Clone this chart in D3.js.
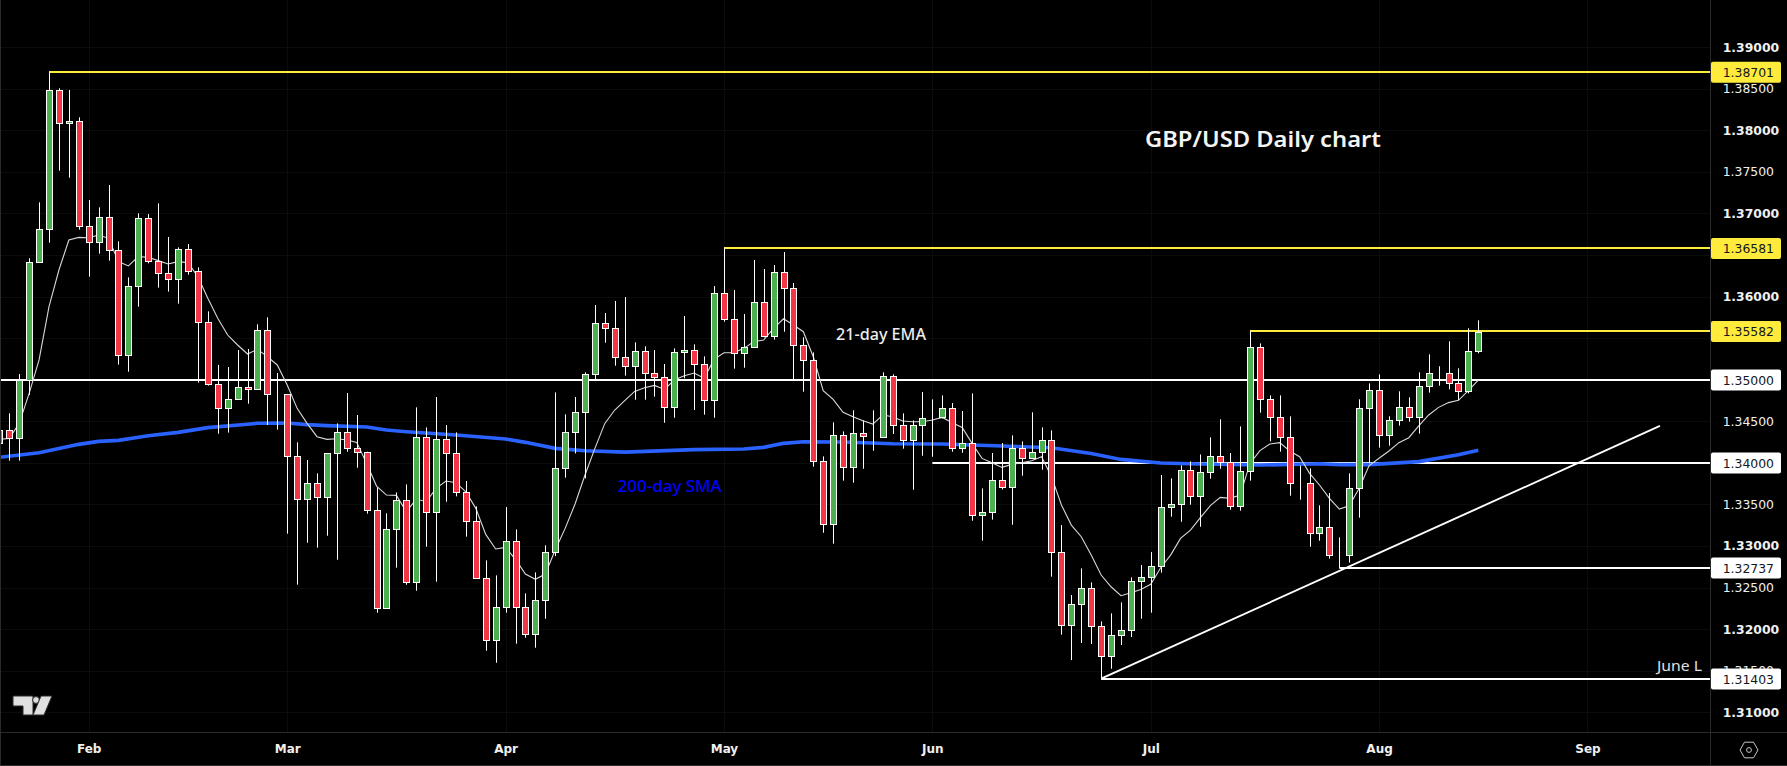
<!DOCTYPE html>
<html>
<head>
  <title>GBP/USD Daily chart</title>
  <script src="https://d3js.org/d3.v7.min.js"></script>
  <style>
    html, body {
      margin: 0;
      padding: 0;
      background-color: black;
      overflow: hidden;
    }
    svg { display: block; }
    text { font-family: 'DejaVu Sans'; }
    .axis path, .axis line { display: none; }
    .axis text { fill: #f0f0f0; font-size: 12.4px; font-family: 'DejaVu Sans'; }
    .note { font-family: 'Noto Sans'; }
  </style>
</head>
<body>
  <svg></svg>
  <script>
    // daily candles, one entry per bar
    const opens = [
      1.34242,1.34391,1.34294,1.34992,1.36412,1.36809,1.38481,1.38084,1.38108,1.36845,
      1.36652,1.36953,1.36556,1.35293,1.36123,1.36941,1.36424,1.36279,1.36207,1.36568,
      1.36303,1.35690,1.34944,1.34655,1.34764,1.34908,1.34884,1.35594,1.34824,1.34824,
      1.34078,1.33561,1.33753,1.33585,1.34113,1.34366,1.34174,1.34125,1.33428,1.32249,
      1.33199,1.33548,1.32562,1.34306,1.33404,1.34282,1.34113,1.33644,1.33295,1.32610,
      1.31864,1.32261,1.33055,1.32261,1.31936,1.32345,1.32922,1.33933,1.34366,1.34607,
      1.35064,1.35677,1.35617,1.35268,1.35160,1.35340,1.35076,1.35028,1.34667,1.35328,
      1.35352,1.35184,1.34751,1.36038,1.35725,1.35316,1.35389,1.35930,1.35521,1.36291,
      1.36098,1.35413,1.35232,1.34017,1.33259,1.34330,1.33945,1.34354,1.34318,1.34306,
      1.35040,1.34450,1.34270,1.34450,1.34546,1.34546,1.34655,1.34174,1.34234,1.33368,
      1.33404,1.33789,1.33704,1.34174,1.34053,1.34126,1.34270,1.32922,1.32044,1.32297,
      1.32489,1.32032,1.31671,1.31924,1.31984,1.32574,1.32622,1.32754,1.33464,1.33500,
      1.33909,1.33596,1.33885,1.34077,1.34005,1.33476,1.33897,1.35389,1.34763,1.34547,
      1.34306,1.33753,1.33753,1.33152,1.33224,1.32887,1.32887,1.33693,1.34655,1.34872,
      1.34331,1.34511,1.34667,1.34547,1.34920,1.35076,1.35076,1.34956,1.34860,1.35341
    ];
    const highs = [
      1.34475,1.34595,1.35068,1.36460,1.37133,1.38701,1.38505,1.38485,1.38156,1.37161,
      1.37073,1.37342,1.36664,1.36231,1.37001,1.36993,1.37121,1.36716,1.36592,1.36632,
      1.36351,1.35822,1.35177,1.35152,1.35357,1.35369,1.35666,1.35750,1.35080,1.34824,
      1.34246,1.34034,1.33873,1.34114,1.34474,1.34839,1.34575,1.34133,1.33704,1.33392,
      1.33644,1.33740,1.34667,1.34426,1.34791,1.34454,1.34366,1.33781,1.33476,1.32826,
      1.32646,1.33468,1.33199,1.32429,1.32682,1.33007,1.34847,1.34583,1.34791,1.35088,
      1.35898,1.35802,1.35946,1.35994,1.35449,1.35401,1.35356,1.35188,1.35377,1.35766,
      1.35425,1.35280,1.36126,1.36581,1.36078,1.35790,1.36439,1.36331,1.36379,1.36535,
      1.36163,1.35509,1.35328,1.34077,1.34486,1.34378,1.34631,1.34510,1.34631,1.35088,
      1.35064,1.34595,1.34510,1.34851,1.34763,1.34811,1.34719,1.34623,1.34835,1.33692,
      1.34118,1.34238,1.34330,1.34258,1.34607,1.34426,1.34390,1.33251,1.32409,1.32730,
      1.32562,1.32092,1.32189,1.32321,1.32622,1.32770,1.32926,1.33853,1.33813,1.33969,
      1.34017,1.34101,1.34306,1.34523,1.34118,1.34438,1.35582,1.35437,1.34811,1.34811,
      1.34559,1.33965,1.33933,1.33488,1.33637,1.33103,1.33873,1.34764,1.34956,1.35064,
      1.34559,1.34860,1.34788,1.35088,1.35305,1.35161,1.35461,1.35137,1.35618,1.35714
    ];
    const lows = [
      1.34174,1.34026,1.34026,1.34816,1.36412,1.36648,1.37514,1.37430,1.36805,1.36239,
      1.36516,1.36432,1.35181,1.35096,1.35878,1.36400,1.36107,1.36059,1.35914,1.36263,
      1.34964,1.34928,1.34350,1.34363,1.34764,1.34711,1.34884,1.34455,1.34399,1.33147,
      1.32534,1.33039,1.32979,1.33123,1.32834,1.34133,1.33941,1.33388,1.32197,1.32249,
      1.32738,1.32533,1.32461,1.32991,1.32570,1.33532,1.33596,1.33111,1.32610,1.31739,
      1.31595,1.32197,1.31824,1.31896,1.31776,1.32124,1.32878,1.33821,1.34113,1.33813,
      1.34988,1.35445,1.35168,1.35048,1.34759,1.34759,1.34795,1.34482,1.34542,1.35016,
      1.34635,1.34579,1.34542,1.35697,1.35132,1.35144,1.35389,1.35509,1.35481,1.35577,
      1.35008,1.34855,1.33953,1.33159,1.33027,1.33785,1.33761,1.33929,1.34145,1.34306,
      1.34346,1.34170,1.33676,1.34085,1.34073,1.34534,1.34133,1.34121,1.33303,1.33063,
      1.33316,1.33680,1.33255,1.33845,1.34053,1.33917,1.32630,1.31932,1.31627,1.31832,
      1.31820,1.31403,1.31523,1.31808,1.31904,1.32124,1.32197,1.32678,1.33352,1.33291,
      1.33496,1.33231,1.33809,1.33929,1.33436,1.33424,1.33785,1.34603,1.34258,1.34134,
      1.33604,1.33556,1.32991,1.33063,1.32847,1.32737,1.32799,1.33340,1.33994,1.34182,
      1.34206,1.34447,1.34495,1.34351,1.34844,1.34928,1.34884,1.34752,1.34836,1.35317
    ];
    const closes = [
      1.34395,1.34294,1.34992,1.36412,1.36809,1.38481,1.38084,1.38108,1.36845,1.36652,
      1.36953,1.36556,1.35293,1.36123,1.36941,1.36424,1.36279,1.36207,1.36568,1.36303,
      1.35690,1.34944,1.34655,1.34764,1.34908,1.34884,1.35594,1.34824,1.34824,1.34078,
      1.33561,1.33753,1.33585,1.34114,1.34366,1.34174,1.34125,1.33428,1.32249,1.33199,
      1.33548,1.32562,1.34306,1.33404,1.34282,1.34113,1.33644,1.33295,1.32610,1.31864,
      1.32261,1.33055,1.32261,1.31936,1.32345,1.32922,1.33933,1.34366,1.34607,1.35064,
      1.35677,1.35617,1.35268,1.35160,1.35340,1.35076,1.35028,1.34667,1.35328,1.35352,
      1.35184,1.34751,1.36038,1.35725,1.35316,1.35389,1.35930,1.35521,1.36291,1.36098,
      1.35413,1.35232,1.34017,1.33259,1.34330,1.33945,1.34354,1.34318,1.34318,1.35040,
      1.34450,1.34270,1.34450,1.34534,1.34546,1.34655,1.34174,1.34234,1.33368,1.33404,
      1.33789,1.33704,1.34174,1.34053,1.34126,1.34270,1.32922,1.32044,1.32297,1.32489,
      1.32032,1.31671,1.31924,1.31984,1.32574,1.32622,1.32754,1.33464,1.33500,1.33909,
      1.33596,1.33885,1.34077,1.34005,1.33476,1.33897,1.35389,1.34763,1.34547,1.34306,
      1.33753,1.33753,1.33152,1.33224,1.32887,1.32887,1.33693,1.34655,1.34872,1.34331,
      1.34511,1.34667,1.34547,1.34920,1.35076,1.35076,1.34956,1.34860,1.35341,1.35570
    ];
    // 21-day EMA (thin white line), one value per bar
    const ema21 = [
      1.34282,1.34294,1.34475,1.34836,1.35237,1.35878,1.36319,1.36680,1.36712,1.36708,
      1.36740,1.36700,1.36420,1.36368,1.36480,1.36472,1.36432,1.36392,1.36420,1.36408,
      1.36239,1.35979,1.35738,1.35537,1.35417,1.35309,1.35365,1.35277,1.35177,1.34936,
      1.34655,1.34475,1.34314,1.34282,1.34290,1.34274,1.34246,1.33993,1.33720,1.33612,
      1.33608,1.33412,1.33564,1.33532,1.33692,1.33781,1.33761,1.33652,1.33452,1.33139,
      1.32963,1.32983,1.32838,1.32662,1.32598,1.32662,1.32950,1.33211,1.33504,1.33853,
      1.34174,1.34474,1.34635,1.34747,1.34859,1.34903,1.34931,1.34883,1.34996,1.35048,
      1.35080,1.35016,1.35244,1.35324,1.35324,1.35377,1.35457,1.35477,1.35617,1.35733,
      1.35657,1.35577,1.35276,1.34867,1.34763,1.34607,1.34554,1.34506,1.34466,1.34575,
      1.34554,1.34502,1.34494,1.34494,1.34514,1.34546,1.34482,1.34426,1.34234,1.34053,
      1.34001,1.33945,1.33981,1.34001,1.34025,1.34073,1.33833,1.33492,1.33251,1.33111,
      1.32890,1.32650,1.32509,1.32401,1.32437,1.32477,1.32538,1.32738,1.32890,1.33091,
      1.33191,1.33340,1.33484,1.33584,1.33572,1.33612,1.33993,1.34146,1.34226,1.34242,
      1.34142,1.34073,1.33873,1.33733,1.33573,1.33444,1.33484,1.33693,1.33966,1.34054,
      1.34142,1.34242,1.34302,1.34443,1.34575,1.34667,1.34724,1.34752,1.34868,1.34996
    ];
    // 200-day SMA (thick blue line), read at these bars only
    const smaBars = [0,4,8,10,12,15,18,21,26,29,31,33,37,39,41,46,51,53,56,59,63,70,75,77,79,81,85,90,95,98,106,110,113,117,121,127,133,135,138,143,147,149];
    const sma200 = [
      1.34066,1.34122,1.34222,1.34258,1.34270,1.34326,1.34366,1.34423,1.34475,1.34479,
      1.34459,1.34447,1.34430,1.34394,1.34374,1.34334,1.34286,1.34246,1.34174,1.34145,
      1.34129,1.34158,1.34166,1.34186,1.34234,1.34254,1.34250,1.34230,1.34226,1.34214,
      1.34182,1.34113,1.34041,1.33997,1.33985,1.33973,1.33989,1.33978,1.33978,1.34014,
      1.34098,1.34150
    ];

    const gridPrices = [1.39,1.385,1.38,1.375,1.37,1.365,1.36,1.355,1.35,1.345,1.34,1.335,1.33,1.325,1.32,1.315,1.31];
    // the scale labels that are not covered by a price tag
    const priceTicks = [1.39,1.385,1.38,1.375,1.37,1.36,1.345,1.335,1.33,1.325,1.32,1.315,1.31];
    const monthLabels = ["Feb","Mar","Apr","May","Jun","Jul","Aug","Sep"];
    const monthBars = [9,29,51,73,94,116,139,160];

    // horizontal levels: price, first bar (null = from the left edge), colour
    const levelPrices = [1.38701,1.36581,1.35582,1.35,1.34,1.32737,1.31403];
    const levelStarts = [5,73,126,null,94,135,111];
    const levelColors = ["#ffeb3b","#ffeb3b","#ffeb3b","#fff","#fff","#fff","#fff"];
    // trend line from the June low
    const trendBars = [111,167.3];
    const trendPrices = [1.31403,1.34443];

    var width = 1787, height = 766;
    var paneRight = 1710, paneBottom = 732;

    var svg = d3.select("svg").attr("width", width).attr("height", height);

    var barCount = opens.length;
    var bars = d3.range(barCount);
    var x = d3.scaleLinear().domain([1, 149]).range([9.3, 1478.3]);
    var y = d3.scaleLinear().domain([1.38701, 1.31403]).range([72, 678.7]);

    // very faint grid
    var grid = svg.append("g").attr("stroke", "#0c0c0c").attr("stroke-width", 1);
    grid.selectAll(".gh").data(gridPrices).join("line")
      .attr("x1", 0).attr("x2", paneRight)
      .attr("y1", d => Math.round(y(d)) + 0.5).attr("y2", d => Math.round(y(d)) + 0.5);
    grid.selectAll(".gv").data(monthBars).join("line")
      .attr("y1", 0).attr("y2", paneBottom)
      .attr("x1", d => Math.round(x(d)) + 0.5).attr("x2", d => Math.round(x(d)) + 0.5);

    // clip the pane so nothing runs onto the price scale
    svg.append("clipPath").attr("id", "pane").append("rect")
      .attr("x", 0).attr("y", 0).attr("width", paneRight).attr("height", paneBottom);
    var pane = svg.append("g").attr("clip-path", "url(#pane)");

    // levels, snapped to whole pixels so they stay solid
    pane.selectAll(".level").data(levelPrices).join("line")
      .attr("x1", (d, i) => levelStarts[i] === null ? 0 : x(levelStarts[i]))
      .attr("x2", paneRight)
      .attr("y1", d => Math.round(y(d))).attr("y2", d => Math.round(y(d)))
      .attr("stroke", (d, i) => levelColors[i])
      .attr("stroke-width", 2);

    pane.append("line")
      .attr("x1", x(trendBars[0])).attr("y1", y(trendPrices[0]))
      .attr("x2", x(trendBars[1])).attr("y2", y(trendPrices[1]))
      .attr("stroke", "#fff").attr("stroke-width", 1.9);

    // moving averages
    var smaLine = d3.line().x(d => x(d)).y((d, i) => y(sma200[i]));
    pane.append("path").attr("d", smaLine(smaBars))
      .attr("fill", "none").attr("stroke", "#2962ff").attr("stroke-width", 3.6);

    var emaLine = d3.line().x(d => x(d)).y(d => y(ema21[d]));
    pane.append("path").attr("d", emaLine(bars))
      .attr("fill", "none").attr("stroke", "#d8d8d8").attr("stroke-width", 1.1);

    // candles
    var candle = pane.selectAll(".candle").data(bars).join("g");
    candle.append("line")
      .attr("x1", d => Math.round(x(d)) + 0.5).attr("x2", d => Math.round(x(d)) + 0.5)
      .attr("y1", d => y(highs[d])).attr("y2", d => y(lows[d]))
      .attr("stroke", "#fff").attr("stroke-width", 1);
    candle.append("rect")
      .attr("x", d => Math.round(x(d)) - 2.5)
      .attr("width", 6)
      .attr("y", d => Math.round(y(Math.max(opens[d], closes[d]))) + 0.5)
      .attr("height", d => Math.round(y(Math.min(opens[d], closes[d]))) - Math.round(y(Math.max(opens[d], closes[d]))))
      .attr("fill", d => closes[d] >= opens[d] ? "#4caf50" : "#f23645")
      .attr("stroke", "#fff").attr("stroke-width", 1);

    // frame
    var frame = svg.append("g").attr("stroke", "#2a2a2a").attr("stroke-width", 1);
    frame.append("line").attr("x1", 0.5).attr("x2", 0.5).attr("y1", 0).attr("y2", height);
    frame.append("line").attr("x1", paneRight + 0.5).attr("x2", paneRight + 0.5).attr("y1", 0).attr("y2", height);
    frame.append("line").attr("x1", 0).attr("x2", width).attr("y1", paneBottom + 0.5).attr("y2", paneBottom + 0.5);
    frame.append("line").attr("x1", 0).attr("x2", width).attr("y1", height - 0.5).attr("y2", height - 0.5);

    // axes
    var yAxis = d3.axisRight(y).tickValues(priceTicks).tickSize(0).tickPadding(12.7).tickFormat(d3.format(".5f"));
    var yg = svg.append("g").attr("class", "axis").attr("transform", "translate(" + paneRight + ",0)").call(yAxis);
    // whole half-cents come out heavier on the scale
    yg.selectAll("text").style("font-weight", d => Math.round(d * 1000) % 10 === 0 ? "bold" : "normal");

    var xAxis = d3.axisBottom(x).tickValues(monthBars).tickSize(0).tickPadding(12).tickFormat((d, i) => monthLabels[i]);
    svg.append("g").attr("class", "axis").attr("transform", "translate(0," + paneBottom + ")").call(xAxis)
      .selectAll("text").style("font-weight", "bold").style("font-size", "12px");

    // price tags on the scale
    var tag = svg.selectAll(".tag").data(levelPrices).join("g")
      .attr("transform", d => "translate(" + (paneRight + 1) + "," + (y(d) + 0.3) + ")");
    tag.append("rect")
      .attr("x", 0).attr("y", -10.5).attr("width", 70).attr("height", 21).attr("rx", 2)
      .attr("fill", (d, i) => levelColors[i]);
    tag.append("text")
      .attr("x", 11.7).attr("dy", "0.38em")
      .attr("fill", "#131722").style("font-size", "12.4px")
      .text(d3.format(".5f"));

    // notes drawn on the chart
    function note(str, px, py, size, weight, color, len) {
      svg.append("text").attr("class", "note")
        .attr("x", px).attr("y", py)
        .attr("fill", color)
        .attr("textLength", len).attr("lengthAdjust", "spacingAndGlyphs")
        .style("font-size", size + "px").style("font-weight", weight)
        .text(str);
    }
    note("GBP/USD Daily chart", 1145, 146.5, 22, 600, "#f4f4f4", 236);
    note("21-day EMA", 836, 340, 15.5, 500, "#ececec", 90);
    note("200-day SMA", 617.7, 491.5, 15.5, 500, "#0000ff", 104);
    note("June L", 1657, 671, 14, 400, "#e0e0e0", 45);

    // tradingview mark
    var logo = svg.append("g").attr("fill", "#e0e0e0").attr("stroke", "#2a2a2a").attr("stroke-width", 1);
    logo.append("path").attr("d", "M13 696H33V715H23V706H13Z");
    logo.append("circle").attr("cx", 36).attr("cy", 700).attr("r", 3.4);
    logo.append("path").attr("d", "M41 696H52L44 715H33Z");

    // settings icon
    var gear = svg.append("g").attr("transform", "translate(1749,750)")
      .attr("fill", "none").attr("stroke", "#c8c8c8").attr("stroke-width", 1);
    gear.append("path").attr("d", "M-9 0L-4.5 -7.8H4.5L9 0L4.5 7.8H-4.5Z");
    gear.append("circle").attr("r", 2.4);
  </script>
</body>
</html>
